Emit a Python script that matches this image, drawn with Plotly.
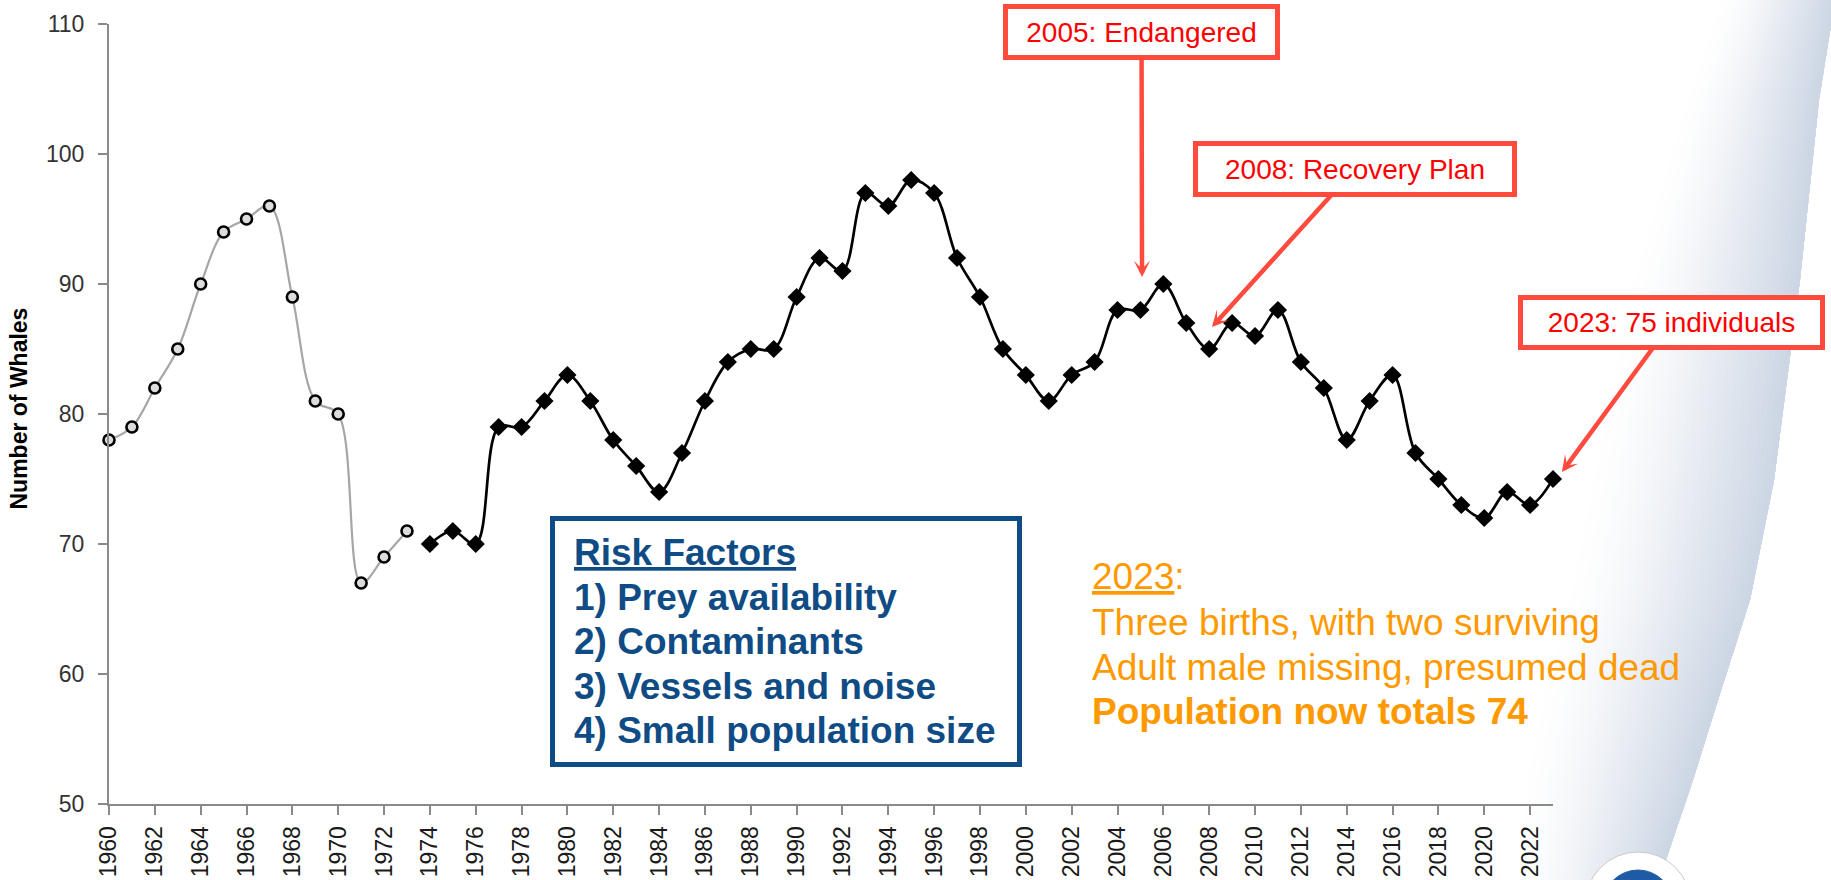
import plotly.graph_objects as go

# ---------------- data ----------------
years_early = list(range(1960, 1974))
whales_early = [78, 79, 82, 85, 90, 94, 95, 96, 89, 81, 80, 67, 69, 71]

years_late = list(range(1974, 2024))
whales_late = [70, 71, 70, 79, 79, 81, 83, 81, 78, 76,
               74, 77, 81, 84, 85, 85, 89, 92, 91, 97,
               96, 98, 97, 92, 89, 85, 83, 81, 83, 84,
               88, 88, 90, 87, 85, 87, 86, 88, 84, 82,
               78, 81, 83, 77, 75, 73, 72, 74, 73, 75]

x_tick_years = list(range(1960, 2023, 2))
y_ticks = [50, 60, 70, 80, 90, 100, 110]

risk_lines = ["<u>Risk Factors</u>", "1) Prey availability", "2) Contaminants",
              "3) Vessels and noise", "4) Small population size"]
note_lines = ["<u>2023</u>:", "Three births, with two surviving",
              "Adult male missing, presumed dead", "<b>Population now totals 74</b>"]

# ---------------- layout geometry ----------------
FW, FH = 1831, 880
L, R, T, B = 109, 278, 24, 76
PW = FW - L - R
PH = FH - T - B


def pxx(x):
    return (x - L) / PW


def pxy(y):
    return (FH - B - y) / PH


ARIAL = "Liberation Sans, Arial, sans-serif"
RED_BORDER = "#FF4A3D"
RED_TEXT = "#FF0000"
BLUE = "#0F4C85"
ORANGE = "#FF9900"

fig = go.Figure()

fig.add_trace(go.Scatter(
    x=years_early, y=whales_early, mode="lines+markers",
    line=dict(color="#A6A6A6", width=2.2, shape="spline", smoothing=1.0),
    marker=dict(symbol="circle", size=11, color="#DCDCDC",
                line=dict(color="#000000", width=2.6)),
    cliponaxis=False, showlegend=False, name="1960-1973"))

fig.add_trace(go.Scatter(
    x=years_late, y=whales_late, mode="lines+markers",
    line=dict(color="#000000", width=2.7, shape="spline", smoothing=1.0),
    marker=dict(symbol="diamond", size=14, color="#000000"),
    cliponaxis=False, showlegend=False, name="1974-2023"))

shapes = []

# background swoosh (gradient band on the right)
edge = [(1836, -6), (1819, 100), (1800, 280), (1774, 480), (1750, 600),
        (1718, 700), (1693, 780), (1667, 857), (1657, 890)]
widths = [115, 135, 170, 185, 185, 180, 170, 150, 140]
c_edge = (203, 213, 227)
N = 34
for k in reversed(range(N)):
    f = (k + 1) / N
    t = (1 - (k + 0.5) / N) ** 1.4
    col = tuple(int(round(255 - (255 - c) * t)) for c in c_edge)
    left = [(x - w * f, y) for (x, y), w in zip(edge, widths)]
    pts = edge + left[::-1]
    path = "M " + " L ".join(f"{pxx(x):.5f},{pxy(y):.5f}" for x, y in pts) + " Z"
    shapes.append(dict(type="path", path=path, xref="paper", yref="paper",
                       fillcolor=f"rgb{col}", line=dict(width=0), layer="below"))

# logo disc (partially visible at bottom)
cx, cy = 1638, 905
for r, fc, lc in [(53, "white", "#C8C8C8"), (35, "#1F5AA6", "#1F5AA6")]:
    shapes.append(dict(type="circle", xref="paper", yref="paper",
                       x0=pxx(cx - r), x1=pxx(cx + r), y0=pxy(cy + r), y1=pxy(cy - r),
                       fillcolor=fc, line=dict(color=lc, width=1), layer="below"))

# risk factors box
shapes.append(dict(type="rect", xref="paper", yref="paper",
                   x0=pxx(552.5), x1=pxx(1019.5), y0=pxy(764.5), y1=pxy(518.5),
                   line=dict(color=BLUE, width=5), fillcolor="white", layer="above"))

annotations = []

# y axis title
annotations.append(dict(text="<b>Number of Whales</b>", xref="paper", yref="paper",
                        x=pxx(18.5), y=pxy(409), xanchor="center", yanchor="middle",
                        textangle=-90, showarrow=False,
                        font=dict(family=ARIAL, size=23, color="#000000")))

# red call-outs
callouts = [
    dict(text="2005: Endangered", xref="x", x=2005.07, y=90.54, ax=-0.5, ay=-245,
         width=267, height=46, size=28),
    dict(text="2008: Recovery Plan", xref="x", x=2008.12, y=86.69, ax=143, ay=-158,
         width=314, height=46, size=28),
    dict(text="2023: 75 individuals", xref="paper", x=pxx(1562), y=75.54, ax=109.5, ay=-149.5,
         width=297, height=45, size=28),
]
for c in callouts:
    annotations.append(dict(
        text=c["text"], xref=c["xref"], yref="y", x=c["x"], y=c["y"],
        ax=c["ax"], ay=c["ay"], showarrow=True, arrowhead=3, arrowsize=0.6,
        arrowwidth=4.5, arrowcolor=RED_BORDER, standoff=0,
        bordercolor=RED_BORDER, borderwidth=5, borderpad=0, bgcolor="white",
        width=c["width"], height=c["height"], align="center",
        font=dict(family=ARIAL, size=c["size"], color=RED_TEXT)))

# risk factors text
risk_centers = [552, 597, 641, 686, 730]
for txt, yc in zip(risk_lines, risk_centers):
    annotations.append(dict(text=f"<b>{txt}</b>", xref="paper", yref="paper",
                            x=pxx(572), y=pxy(yc), xanchor="left", yanchor="middle",
                            showarrow=False, align="left",
                            font=dict(family=ARIAL, size=37, color=BLUE)))

# orange notes
note_centers = [576, 622, 667, 711]
for txt, yc in zip(note_lines, note_centers):
    annotations.append(dict(text=txt, xref="paper", yref="paper",
                            x=pxx(1090), y=pxy(yc), xanchor="left", yanchor="middle",
                            showarrow=False, align="left",
                            font=dict(family=ARIAL, size=37, color=ORANGE)))

fig.update_layout(
    width=FW, height=FH,
    margin=dict(l=L, r=R, t=T, b=B, autoexpand=False),
    paper_bgcolor="white", plot_bgcolor="rgba(0,0,0,0)",
    showlegend=False,
    shapes=shapes, annotations=annotations,
    xaxis=dict(range=[1960, 2023], tickmode="array", tickvals=x_tick_years,
               ticktext=[str(v) for v in x_tick_years], tickangle=-90,
               showgrid=False, zeroline=False, showline=True,
               linecolor="#8A8A8A", linewidth=2, ticks="outside", ticklen=9,
               tickwidth=1.5, tickcolor="#8A8A8A", ticklabelstandoff=2,
               tickfont=dict(family=ARIAL, size=23, color="#1A1A1A")),
    yaxis=dict(range=[50, 110], tickmode="array", tickvals=y_ticks,
               showgrid=False, zeroline=False, showline=True,
               linecolor="#8A8A8A", linewidth=2, ticks="outside", ticklen=9,
               tickwidth=1.5, tickcolor="#8A8A8A", ticklabelstandoff=9,
               tickfont=dict(family=ARIAL, size=23, color="#333333")),
)

fig.write_html(
    "out.html",
    config={"displayModeBar": False},
    post_script="document.body.style.margin='0';"
                "document.body.style.overflow='hidden';"
                "document.documentElement.style.overflow='hidden';")
